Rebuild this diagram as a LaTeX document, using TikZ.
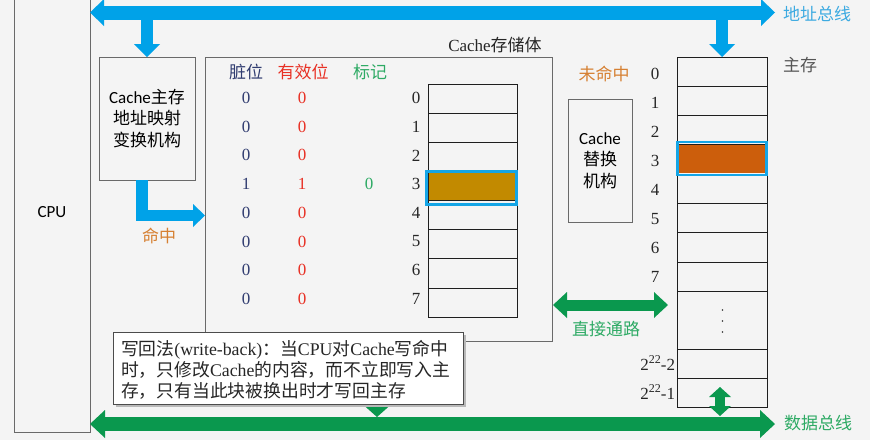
\documentclass[tikz,border=0pt]{standalone}
\usepackage{fontspec}
\setmainfont{Liberation Serif}
\newfontfamily\cjk{Noto Sans CJK SC}
\newfontfamily\carl{Carlito}
\usetikzlibrary{arrows.meta}
\definecolor{bg}{RGB}{244,244,244}
\definecolor{busblue}{RGB}{0,162,232}
\definecolor{busgreen}{RGB}{10,152,78}
\definecolor{txtgreen}{RGB}{45,170,100}
\definecolor{txtorange}{RGB}{214,128,50}
\definecolor{txtred}{RGB}{232,48,36}
\definecolor{txtnavy}{RGB}{48,60,112}
\definecolor{txtblue}{RGB}{60,170,225}
\definecolor{txtgray}{RGB}{85,85,85}
\definecolor{boxgray}{RGB}{105,105,105}
\definecolor{cellline}{RGB}{30,30,30}
\definecolor{cachefill}{RGB}{194,138,0}
\definecolor{memfill}{RGB}{204,94,12}
\definecolor{hlblue}{RGB}{20,165,230}
\begin{document}
\begin{tikzpicture}[x=1pt,y=-1pt,
  every node/.style={inner sep=0pt, outer sep=0pt},
  num/.style={font=\fontsize{17}{20}\selectfont},
  cjklbl/.style={font=\cjk\fontsize{17}{20}\selectfont},
  framebox/.style={draw=boxgray, line width=0.9pt},
  cell/.style={draw=cellline, line width=1pt, minimum width=89.5, minimum height=29.15, anchor=north west},
  memcell/.style={draw=cellline, line width=1pt, minimum width=90, minimum height=29.3, anchor=north west},
  wbtext/.style={font=\fontsize{17.8}{21}\selectfont, text=black!85},
  bbus/.style={draw=busblue, line width=14pt, arrows={Triangle[width=27pt,length=14pt,line width=0pt]-Triangle[width=27pt,length=14pt,line width=0pt]}},
  bdown/.style={draw=busblue, line width=12pt, arrows={-Triangle[width=26pt,length=13pt,line width=0pt]}},
  hitarrow/.style={draw=busblue, line width=11.5pt, line join=miter, arrows={-Triangle[width=23pt,length=12pt,line width=0pt]}},
  gbus/.style={draw=busgreen, line width=14pt, arrows={Triangle[width=28pt,length=15pt,line width=0pt]-Triangle[width=28pt,length=15pt,line width=0pt]}},
  gdouble/.style={draw=busgreen, line width=11pt, arrows={Triangle[width=26pt,length=14pt,line width=0pt]-Triangle[width=26pt,length=14pt,line width=0pt]}},
  gsmall/.style={draw=busgreen, line width=10pt, arrows={Triangle[width=22pt,length=10pt,line width=0pt]-Triangle[width=22pt,length=10pt,line width=0pt]}},
  gdown/.style={draw=busgreen, line width=12pt, arrows={-Triangle[width=27pt,length=12pt,line width=0pt]}}
]
\useasboundingbox (0,0) rectangle (870,440);
\fill[bg] (0,0) rectangle (870,440);

% CPU
\node[framebox, minimum width=76, minimum height=440, anchor=south west, font=\carl\fontsize{17}{20}\selectfont] (cpu) at (14,432) {CPU};

% mapping box
\node[framebox, minimum width=96, minimum height=123, anchor=north west, align=center, font=\cjk\fontsize{17}{21.5}\selectfont] (mapbox) at (99,57) {{\carl Cache}主存\\地址映射\\变换机构};

% cache storage
\node[framebox, minimum width=347, minimum height=284, anchor=north west] (cachebox) at (205,57) {};
\node[font=\fontsize{17}{20}\selectfont, text=black!85] (cbtitle) at (495,45) {Cache{\cjk 存储体}};

\node[cjklbl, text=txtnavy] (hdirty) at (246,72) {脏位};
\node[cjklbl, text=txtred] (hvalid) at (303,72) {有效位};
\node[cjklbl, text=txtgreen] (htag) at (370,72) {标记};

\foreach \i/\d/\v in {0/0/0,1/0/0,2/0/0,3/1/1,4/0/0,5/0/0,6/0/0,7/0/0} {
  \node[num, text=txtnavy] (d\i) at (246,{98+28.7*\i}) {\d};
  \node[num, text=txtred] (v\i) at (302,{98+28.7*\i}) {\v};
  \node[num, text=black!85] (ci\i) at (416,{98+28.7*\i}) {\i};
  \node[cell] (c\i) at (428,{84+29.15*\i}) {};
}
\node[num, text=txtgreen] (t3) at (369,{98+28.7*3}) {0};
\fill[cachefill] ([shift={(0.5,0.5)}]c3.north west) rectangle ([shift={(-0.5,-0.5)}]c3.south east);
\draw[hlblue, line width=2.6pt] ([shift={(-1.7,0.3)}]c3.north west) rectangle ([shift={(-1,4.1)}]c3.south east);

% replacement box
\node[framebox, minimum width=64, minimum height=123, anchor=north west, align=center, font=\cjk\fontsize{17}{21.5}\selectfont] (repbox) at (568,99) {{\carl Cache}\\替换\\机构};
\node[cjklbl, text=txtorange] (miss) at (604,74) {未命中};

% main memory
\foreach \i in {0,...,7} {
  \node[memcell] (m\i) at (677,{57+29.3*\i}) {};
  \node[num, text=black!85] (mi\i) at (655,{74+29.0*\i}) {\i};
}
\node[memcell, minimum height=57.6] (mdots) at (677,291.4) {};
\node[memcell, minimum height=29] (mA) at (677,349) {};
\node[memcell, minimum height=29] (mB) at (677,378) {};
\foreach \yy in {310,321,332} \fill[black!80] (722.5,\yy) circle (0.9);
\node[num, anchor=east, text=black!85] (mlA) at (675,363) {2\raisebox{0.42em}{\fontsize{12}{12}\selectfont 22}-2};
\node[num, anchor=east, text=black!85] (mlB) at (675,392) {2\raisebox{0.42em}{\fontsize{12}{12}\selectfont 22}-1};
\fill[memfill] ([shift={(0.5,0.5)}]m3.north west) rectangle ([shift={(-0.5,-1.2)}]m3.south east);
\draw[hlblue, line width=2.6pt] ([shift={(0.7,-2.9)}]m3.north west) rectangle ([shift={(-0.3,0.8)}]m3.south east);
\node[cjklbl, text=txtgray] (mmlabel) at (800,65) {主存};

% address bus
\coordinate (abL) at (90,12.5);
\coordinate (abR) at (775,12.5);
\draw[bbus] (abL) -- (abR);
\draw[bdown] (mapbox.north |- abL) -- (mapbox.north);
\draw[bdown] (m0.north |- abL) -- (m0.north);
\node[cjklbl, text=txtblue] (ablabel) at (817,14) {地址总线};

% hit arrow
\coordinate (hitE) at (205,215.5);
\draw[hitarrow] ([xshift=-5pt]mapbox.south) |- (cachebox.west |- hitE);
\node[cjklbl, text=txtorange] (hit) at (159,236) {命中};

% direct path
\coordinate (dpL) at (553,305);
\coordinate (dpR) at (668,305);
\draw[gdouble] (dpL) -- (dpR);
\node[cjklbl, text=txtgreen] (direct) at (606,329) {直接通路};

% data bus
\coordinate (dbL) at (90,424);
\coordinate (dbR) at (775,424);
\coordinate (cbA) at (377,341);
\coordinate (cbB) at (377,417);
\draw[gdown] (cbA) -- (cbB);
\coordinate (msA) at (720,387);
\coordinate (msB) at (720,416);
\draw[gsmall] (msA) -- (msB);
\draw[gbus] (dbL) -- (dbR);
\node[cjklbl, text=txtgreen] (dblabel) at (818,423) {数据总线};

% write-back callout
\fill[gray!55] (116,335) rectangle (466,407);
\node[draw=gray!60!black, fill=white, line width=0.8pt, minimum width=350, minimum height=72, anchor=north west] (wbbox) at (113,332) {};
\node[wbtext, anchor=base west] (wb1) at (121,355) {{\cjk 写回法}(write-back){\cjk ：当}CPU{\cjk 对}Cache{\cjk 写命中}};
\node[wbtext, anchor=base west] (wb2) at (121,376.5) {{\cjk 时，只修改}Cache{\cjk 的内容，而不立即写入主}};
\node[wbtext, anchor=base west] (wb3) at (121,397.5) {{\cjk 存，只有当此块被换出时才写回主存}};
\end{tikzpicture}
\end{document}
